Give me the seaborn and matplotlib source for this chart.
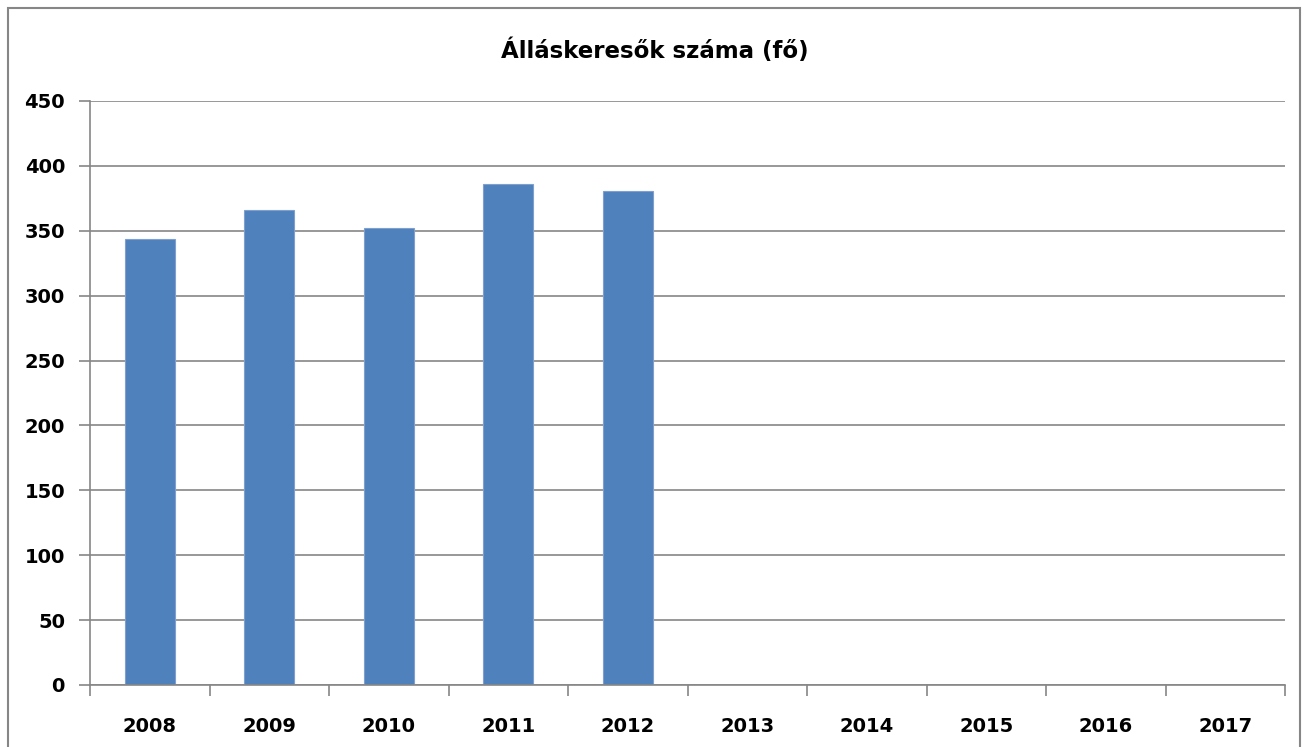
import numpy as np
import pandas as pd
import seaborn as sns
import matplotlib.pyplot as plt
from matplotlib.patches import Rectangle

# Data
years = ['2008', '2009', '2010', '2011', '2012', '2013', '2014', '2015', '2016', '2017']
values = [344, 366, 352, 386, 381, np.nan, np.nan, np.nan, np.nan, np.nan]
title = 'Álláskeresők száma (fő)'

df = pd.DataFrame({'Év': years, 'Fő': values})

sns.set_theme(style='white')
plt.rcParams['font.family'] = ['DejaVu Sans']

fig = plt.figure(figsize=(13.08, 7.47), dpi=100)
ax = fig.add_axes([90 / 1308, 62 / 747, 1195 / 1308, 584 / 747])

sns.barplot(data=df.dropna(), x='Év', y='Fő', order=years, color='#4F81BD',
            saturation=1, width=0.42, edgecolor='#7FA0CF', linewidth=0.8, ax=ax)

ax.set_ylim(0, 450)
ax.set_xlim(-0.5, len(years) - 0.5)
ax.set_yticks(np.arange(0, 451, 50))
ax.yaxis.grid(True, color='#868686', linewidth=1.2)
ax.set_axisbelow(True)

for side in ['top', 'right']:
    ax.spines[side].set_visible(False)
for side in ['left', 'bottom']:
    ax.spines[side].set_color('#868686')
    ax.spines[side].set_linewidth(1.2)

# category boundaries carry the x ticks, labels sit in between
ax.set_xticks(np.arange(-0.5, len(years), 1.0), minor=True)
ax.tick_params(axis='x', which='minor', length=8, width=1.2, color='#868686',
               direction='out', bottom=True)
ax.tick_params(axis='x', which='major', length=0, pad=23)
ax.tick_params(axis='y', length=8, width=1.2, color='#868686', direction='out',
               pad=10, left=True)

for lab in ax.get_xticklabels() + ax.get_yticklabels():
    lab.set_fontsize(14)
    lab.set_fontweight('bold')
    lab.set_color('black')

ax.set_xlabel('')
ax.set_ylabel('')

fig.text(655 / 1308, (747 - 51) / 747, title, ha='center', va='center',
         fontsize=16.5, fontweight='bold', color='black')

# outer chart frame
fig.patches.append(Rectangle((8 / 1308, -0.01), 1292 / 1308, 739 / 747 + 0.01,
                             transform=fig.transFigure, fill=False,
                             edgecolor='#868686', linewidth=1.5))

fig.savefig('out.png', dpi=100)
